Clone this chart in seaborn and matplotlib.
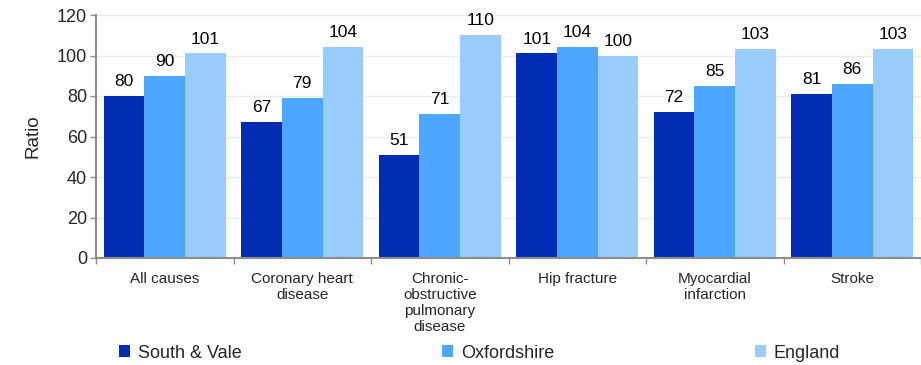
import matplotlib
matplotlib.use("Agg")
import matplotlib.pyplot as plt
import seaborn as sns
import pandas as pd
from matplotlib.patches import Patch

categories = ["All causes", "Coronary heart\ndisease", "Chronic-\nobstructive\npulmonary\ndisease",
              "Hip fracture", "Myocardial\ninfarction", "Stroke"]
series = ["South & Vale", "Oxfordshire", "England"]
south_vale = [80, 67, 51, 101, 72, 81]
oxfordshire = [90, 79, 71, 104, 85, 86]
england = [101, 104, 110, 100, 103, 103]
colors = ["#002DB3", "#4DA6FF", "#99CCFF"]

rows = []
for name, vals in zip(series, [south_vale, oxfordshire, england]):
    for cat, v in zip(categories, vals):
        rows.append({"Category": cat, "Area": name, "Ratio": v})
df = pd.DataFrame(rows)

sns.set_theme(style="white")
plt.rcParams["font.family"] = ["Liberation Sans", "DejaVu Sans"]

fig = plt.figure(figsize=(9.21, 3.65), dpi=100)
ax = fig.add_axes([96 / 921, 107 / 365, 825 / 921, 243 / 365])

sns.barplot(data=df, x="Category", y="Ratio", hue="Area", order=categories,
            hue_order=series, palette=colors, width=0.885, gap=0,
            saturation=1, errorbar=None, legend=False, ax=ax, zorder=2,
            linewidth=0, edgecolor="none")

for cont in ax.containers:
    ax.bar_label(cont, labels=[f"{v:.0f}" for v in cont.datavalues],
                 padding=5, fontsize=12.5, color="black")

ax.set_ylim(0, 120)
ax.set_yticks(range(0, 121, 20))
ax.set_xlim(-0.5, 5.44)
ax.grid(axis="y", color="#EBEBEB", linewidth=1, zorder=0)
ax.set_axisbelow(True)

# category boundary ticks on the x axis, labels centred under groups
ax.set_xticks([i + 0.5 for i in range(-1, 6)], minor=False)
ax.set_xticklabels([])
ax.set_xticks(range(len(categories)), minor=True)
ax.set_xticklabels(categories, minor=True, fontsize=11, linespacing=1.2, va="top")
ax.tick_params(axis="x", which="major", length=4.5, color="#8C8C8C", width=1, direction="out", bottom=True)
ax.tick_params(axis="x", which="minor", length=0, pad=10)
ax.tick_params(axis="y", length=4.5, color="#8C8C8C", width=1, direction="out", left=True,
               labelsize=13, pad=2)

ax.set_xlabel("")
ax.set_ylabel("Ratio", fontsize=13.5, labelpad=11)

for side in ["top", "right"]:
    ax.spines[side].set_visible(False)
for side in ["left", "bottom"]:
    ax.spines[side].set_color("#8C8C8C")
    ax.spines[side].set_linewidth(1.5)

handles = [Patch(facecolor=c, edgecolor="none", label=s) for c, s in zip(colors, series)]
fig.legend(handles=handles, loc="center left", bbox_to_anchor=(119 / 921, 1 - 353 / 365),
           ncol=3, frameon=False, fontsize=13, handlelength=0.6, handleheight=0.6,
           handletextpad=0.45, columnspacing=11.1, borderaxespad=0, borderpad=0)

fig.savefig("out.png", dpi=100)
